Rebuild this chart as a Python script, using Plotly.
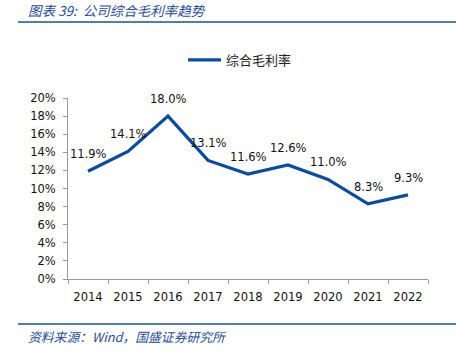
import plotly.graph_objects as go

years = ["2014", "2015", "2016", "2017", "2018", "2019", "2020", "2021", "2022"]
margin_rate = [11.9, 14.1, 18.0, 13.1, 11.6, 12.6, 11.0, 8.3, 9.3]
labels = ["11.9%", "14.1%", "18.0%", "13.1%", "11.6%", "12.6%", "11.0%", "8.3%", "9.3%"]
y_ticks = [0, 2, 4, 6, 8, 10, 12, 14, 16, 18, 20]
y_ticklabels = [f"{v}%" for v in y_ticks]

W, H = 456, 356
L, R, T, B = 68, 28, 98, 77
PW, PH = W - L - R, H - T - B
NUMFONT = dict(family="DejaVu Sans, Verdana", size=11.5, color="#111111")

fig = go.Figure()
fig.add_trace(go.Scatter(
    x=years, y=margin_rate, mode="lines", name="综合毛利率",
    line=dict(color="#0B4BA0", width=3.2),
    cliponaxis=False,
))

annotations = []
for i, (y, t) in enumerate(zip(margin_rate, labels)):
    annotations.append(dict(x=i, y=y, xref="x", yref="y", text=t, showarrow=False, yshift=17,
                            font=NUMFONT, xanchor="center", yanchor="middle"))
annotations.append(dict(text="<i>图表 39:  公司综合毛利率趋势</i>", xref="paper", yref="paper",
                        x=-(L - 26) / PW, y=1 + (T - 10) / PH, xanchor="left", yanchor="middle",
                        showarrow=False, font=dict(family="Noto Sans CJK SC", size=13.5, color="#1F4E9A")))
annotations.append(dict(text="<i>资料来源：Wind，国盛证券研究所</i>", xref="paper", yref="paper",
                        x=-(L - 26) / PW, y=-(336 - (H - B)) / PH, xanchor="left", yanchor="middle",
                        showarrow=False, font=dict(family="Noto Sans CJK SC", size=12.8, color="#1F4E9A")))

shapes = [
    dict(type="line", xref="paper", yref="paper",
         x0=-(L - 18) / PW, x1=1 + R / PW,
         y0=1 + (T - 22) / PH, y1=1 + (T - 22) / PH,
         line=dict(color="#1F4E9A", width=1.5)),
    dict(type="line", xref="paper", yref="paper",
         x0=-(L - 18) / PW, x1=1 + R / PW,
         y0=-(324 - (H - B)) / PH, y1=-(324 - (H - B)) / PH,
         line=dict(color="#1F4E9A", width=1.5)),
]

fig.update_layout(
    width=W, height=H,
    margin=dict(l=L, r=R, t=T, b=B, autoexpand=False),
    paper_bgcolor="white", plot_bgcolor="white",
    showlegend=True,
    legend=dict(orientation="h", x=0.5 - 8 / PW, xanchor="center", y=1 + (T - 60) / PH, yanchor="middle",
                font=dict(family="Noto Sans CJK SC", size=13, color="#222222"),
                itemwidth=33, bgcolor="rgba(0,0,0,0)"),
    font=NUMFONT,
    annotations=annotations,
    shapes=shapes,
    xaxis=dict(type="category", showline=True, linecolor="#999999", linewidth=1,
               ticks="outside", tickson="boundaries", ticklen=4, tickcolor="#999999",
               showgrid=False, zeroline=False, range=[-0.5, 8.5], tickangle=0,
               ticklabelstandoff=7,
               automargin=False, tickfont=NUMFONT),
    yaxis=dict(range=[0, 20], tickvals=y_ticks, ticktext=y_ticklabels,
               showline=True, linecolor="#999999", linewidth=1,
               ticks="outside", ticklen=4, tickcolor="#999999",
               showgrid=False, zeroline=False, automargin=False,
               ticklabelstandoff=5,
               tickfont=NUMFONT),
)

fig.write_html("out.html", config={"displayModeBar": False},
               post_script="document.body.style.margin='0';document.body.style.padding='0';")
